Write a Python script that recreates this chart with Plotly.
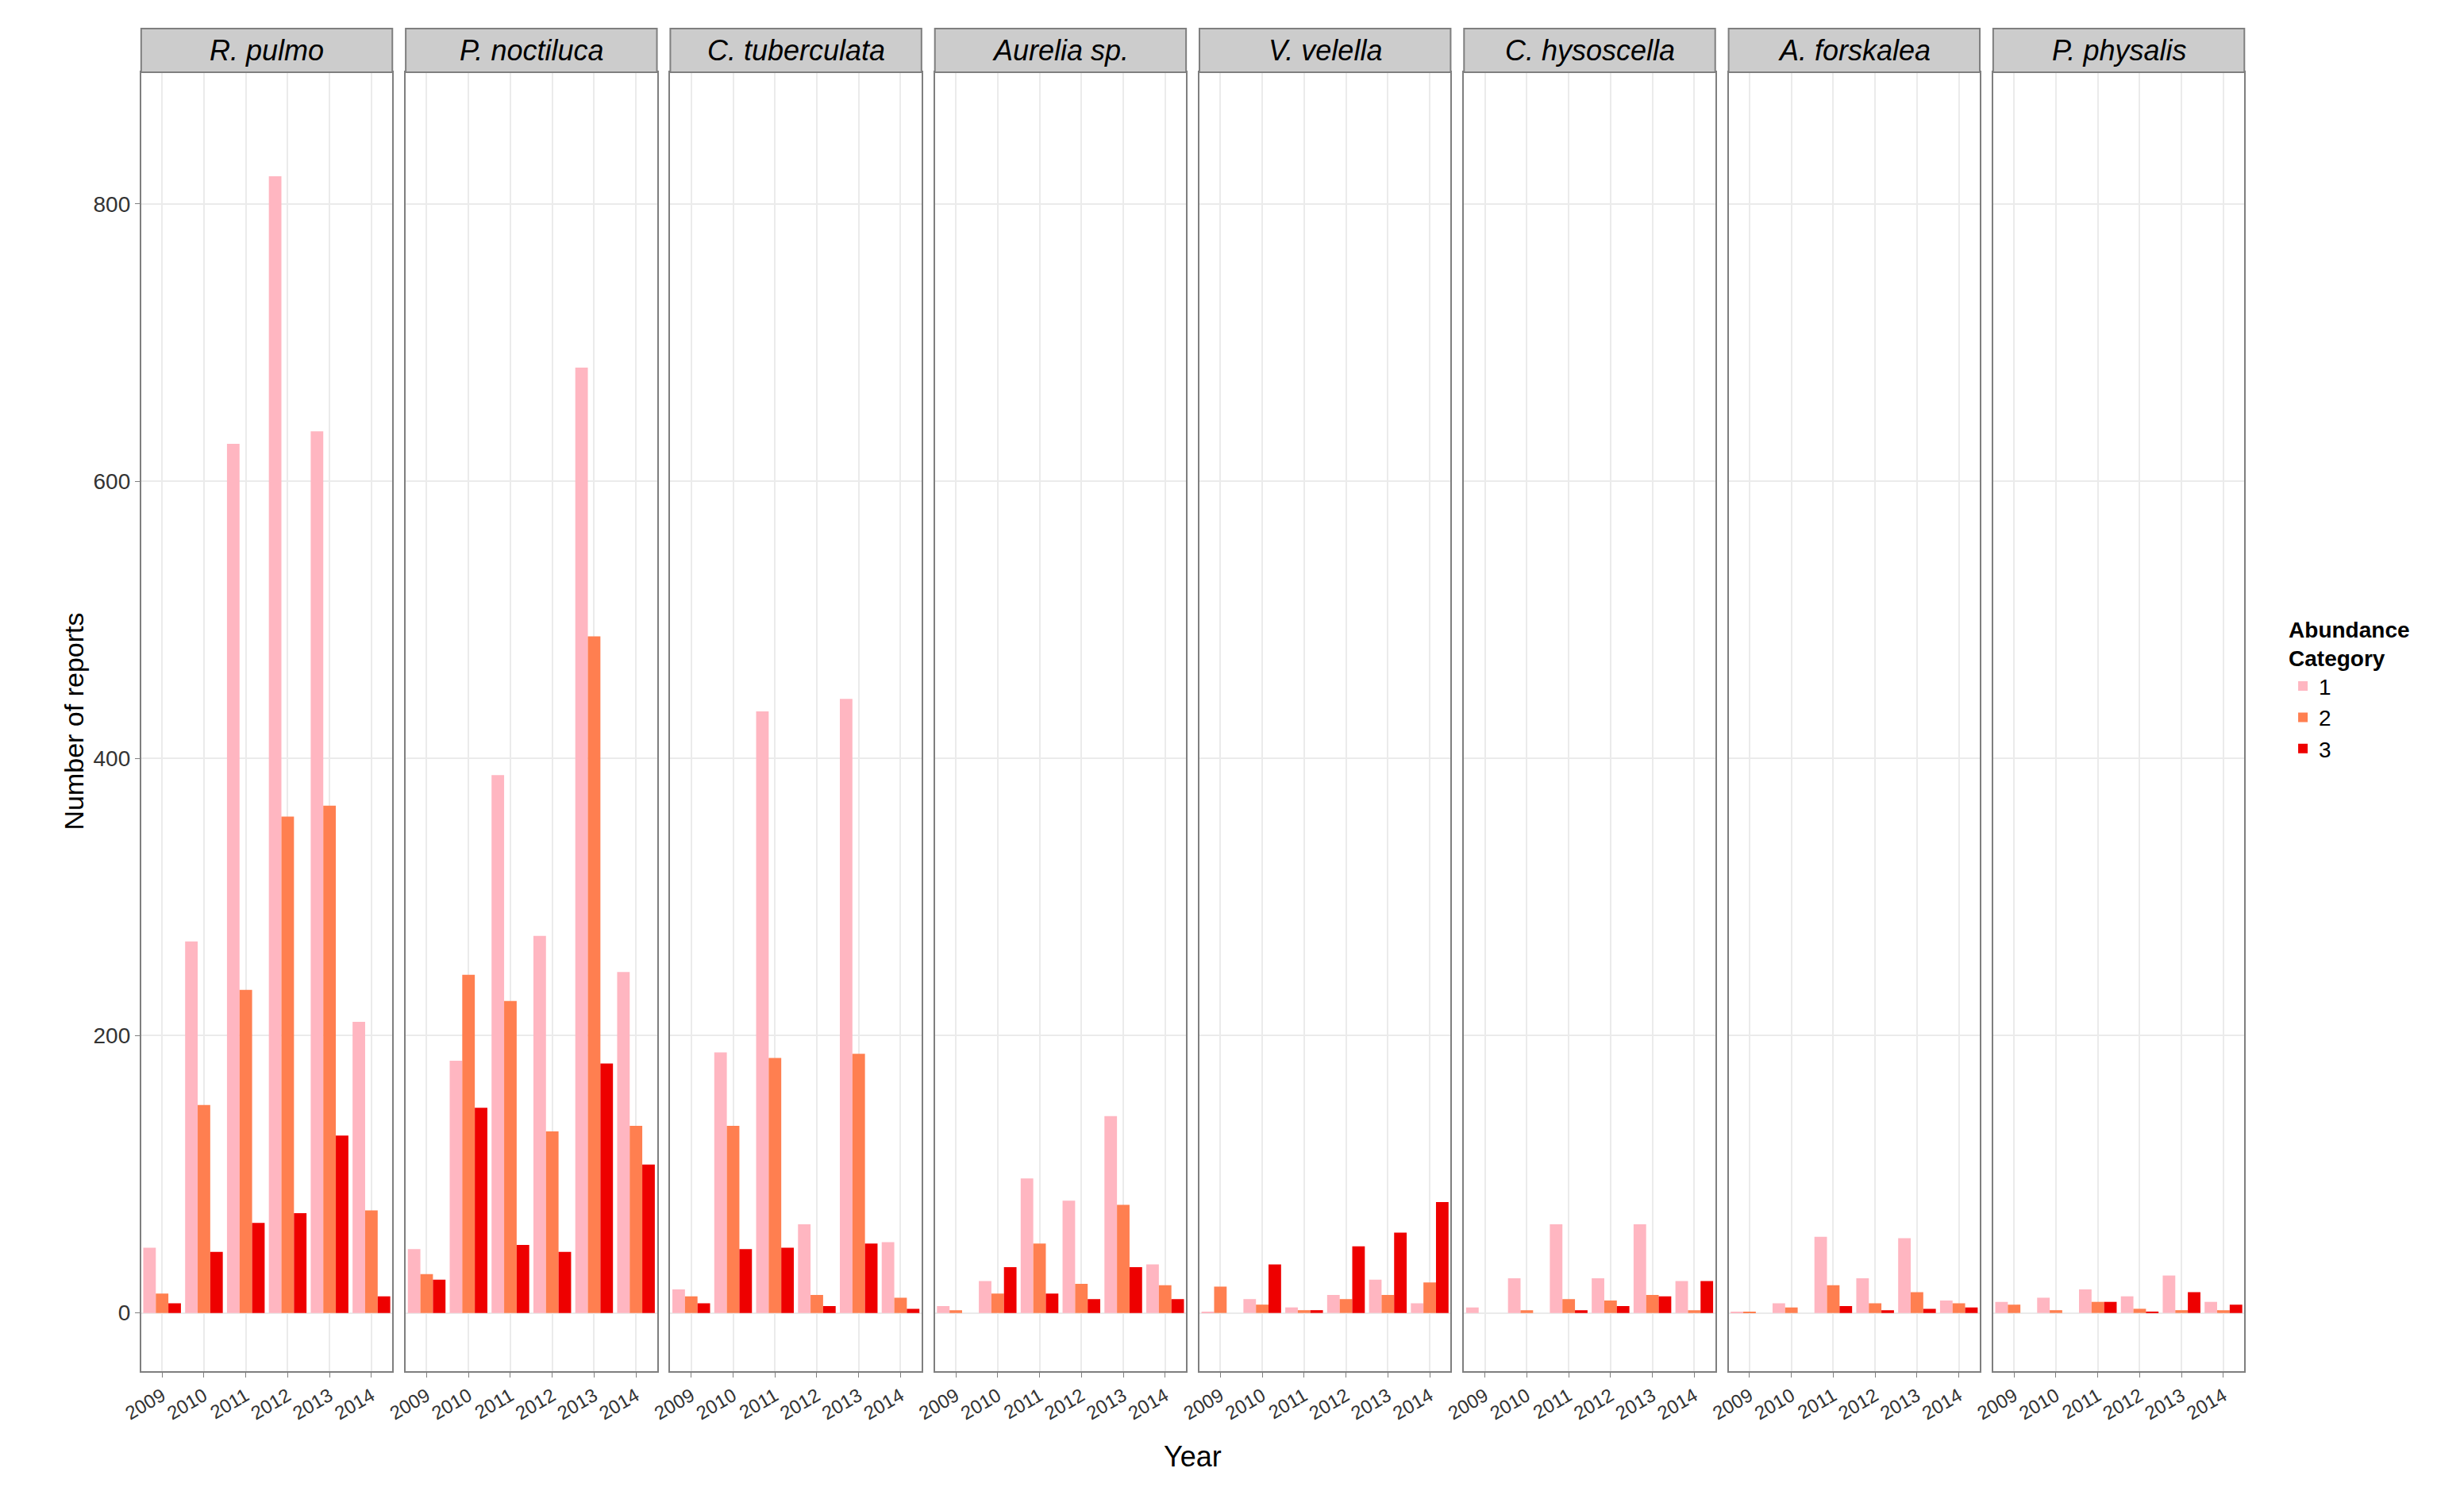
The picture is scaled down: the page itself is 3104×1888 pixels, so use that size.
import plotly.graph_objects as go

years = ["2009", "2010", "2011", "2012", "2013", "2014"]
species = ["R. pulmo", "P. noctiluca", "C. tuberculata", "Aurelia sp.", "V. velella",
           "C. hysoscella", "A. forskalea", "P. physalis"]
cat1 = {
    "R. pulmo": [47, 268, 627, 820, 636, 210],
    "P. noctiluca": [46, 182, 388, 272, 682, 246],
    "C. tuberculata": [17, 188, 434, 64, 443, 51],
    "Aurelia sp.": [5, 23, 97, 81, 142, 35],
    "V. velella": [1, 10, 4, 13, 24, 7],
    "C. hysoscella": [4, 25, 64, 25, 64, 23],
    "A. forskalea": [1, 7, 55, 25, 54, 9],
    "P. physalis": [8, 11, 17, 12, 27, 8],
}
cat2 = {
    "R. pulmo": [14, 150, 233, 358, 366, 74],
    "P. noctiluca": [28, 244, 225, 131, 488, 135],
    "C. tuberculata": [12, 135, 184, 13, 187, 11],
    "Aurelia sp.": [2, 14, 50, 21, 78, 20],
    "V. velella": [19, 6, 2, 10, 13, 22],
    "C. hysoscella": [0, 2, 10, 9, 13, 2],
    "A. forskalea": [1, 4, 20, 7, 15, 7],
    "P. physalis": [6, 2, 8, 3, 2, 2],
}
cat3 = {
    "R. pulmo": [7, 44, 65, 72, 128, 12],
    "P. noctiluca": [24, 148, 49, 44, 180, 107],
    "C. tuberculata": [7, 46, 47, 5, 50, 3],
    "Aurelia sp.": [0, 33, 14, 10, 33, 10],
    "V. velella": [0, 35, 2, 48, 58, 80],
    "C. hysoscella": [0, 0, 2, 5, 12, 23],
    "A. forskalea": [0, 0, 5, 2, 3, 4],
    "P. physalis": [0, 0, 8, 1, 15, 6],
}
categories = ["1", "2", "3"]
colors = ["#FFB6C1", "#FF7F50", "#EE0000"]

W, H = 3104, 1888
left, right = 146, 2817
top_strip, top_panel, bottom = 28, 83, 1719
gap = 17
pw = (right - left - 7 * gap) / 8

fig = go.Figure()
layout = dict(
    width=W, height=H, margin=dict(l=0, r=0, t=0, b=0),
    paper_bgcolor="white", plot_bgcolor="white", barmode="group",
    bargap=0.1, bargroupgap=0, font=dict(family="Liberation Sans", size=26, color="black"),
    legend=dict(x=0.925, y=0.545, xanchor="left", yanchor="middle",
                title=dict(text="<b>Abundance<br>Category</b>", font=dict(size=28)),
                font=dict(size=28), itemsizing="constant", tracegroupgap=0),
    shapes=[], annotations=[],
)
ydom = [1 - bottom / H, 1 - top_panel / H]
for i, sp in enumerate(species):
    x0 = left + i * (pw + gap)
    x1 = x0 + pw
    xa = "xaxis" if i == 0 else f"xaxis{i+1}"
    ya = "yaxis" if i == 0 else f"yaxis{i+1}"
    xr = "x" if i == 0 else f"x{i+1}"
    yr = "y" if i == 0 else f"y{i+1}"
    layout[xa] = dict(domain=[x0 / W, x1 / W], anchor=yr, type="category",
                      categoryorder="array", categoryarray=years,
                      tickangle=-30, tickfont=dict(size=24, color="#333"),
                      showgrid=True, gridcolor="#EBEBEB", gridwidth=2,
                      showline=True, linecolor="#7F7F7F", linewidth=2, mirror=True,
                      ticks="outside", tickcolor="#7F7F7F", ticklen=6)
    layout[ya] = dict(domain=ydom, anchor=xr, range=[-42, 895],
                      tickvals=[0, 200, 400, 600, 800], showticklabels=(i == 0),
                      tickfont=dict(size=28, color="#333"),
                      showgrid=True, gridcolor="#EBEBEB", gridwidth=2, zeroline=False,
                      showline=True, linecolor="#7F7F7F", linewidth=2, mirror=True,
                      ticks="outside" if i == 0 else "", tickcolor="#7F7F7F", ticklen=6)
    if i > 0:
        layout[ya]["matches"] = "y"
    layout["shapes"].append(dict(type="rect", xref="paper", yref="paper",
                                 x0=x0 / W, x1=x1 / W, y0=1 - top_panel / H, y1=1 - top_strip / H,
                                 fillcolor="#CCCCCC", line=dict(color="#7F7F7F", width=2)))
    layout["annotations"].append(dict(x=(x0 + x1) / 2 / W, y=1 - (top_strip + top_panel) / 2 / H,
                                      xref="paper", yref="paper", text=f"<i>{sp}</i>",
                                      xanchor="center", yanchor="middle",
                                      showarrow=False, font=dict(size=36, color="black")))
    for c, data, col in zip(categories, [cat1, cat2, cat3], colors):
        fig.add_trace(go.Bar(x=years, y=data[sp], name=c, marker=dict(color=col, line=dict(width=0)),
                             xaxis=xr, yaxis=yr, showlegend=(i == 0), legendgroup=c,
                             offsetgroup=c))

layout["annotations"].append(dict(x=(left + right) / 2 / W, y=1 - 1826 / H, xref="paper", yref="paper",
                                  text="Year", showarrow=False, xanchor="center", yanchor="middle",
                                  font=dict(size=36)))
layout["annotations"].append(dict(x=60 / W, y=ydom[0] + (ydom[1] - ydom[0]) / 2, xref="paper",
                                  yref="paper", text="Number of reports", textangle=-90,
                                  xanchor="center", yanchor="middle",
                                  showarrow=False, font=dict(size=34)))
fig.update_layout(**layout)
fig.write_html("out.html")
